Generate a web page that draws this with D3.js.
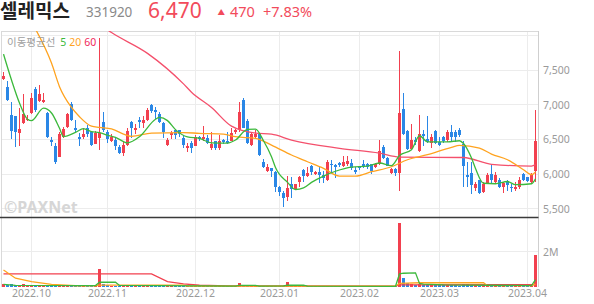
<!DOCTYPE html>
<html><head><meta charset="utf-8">
<script src="https://cdn.jsdelivr.net/npm/d3@7"></script>
<style>
html,body{margin:0;padding:0;background:#fff;}
svg{display:block;}
text{font-family:'Noto Sans','Noto Sans CJK KR',sans-serif;}
</style></head><body>
<svg id="c" width="594" height="304"></svg>
<script>
// ---- trading days (categories) ----
const sep2022 = [22,23,26,27,28,29,30];
const oct2022 = [4,5,6,7,11,12,13,14,17,18,19,20,21,24,25,26,27,28,31];
const nov2022 = [1,2,3,4,7,8,9,10,11,14,15,16,17,18,21,22,23,24,25,28,29,30];
const dec2022 = [1,2,5,6,7,8,9,12,13,14,15,16,19,20,21,22,23,26,27,28,29];
const jan2023 = [2,3,4,5,6,9,10,11,12,13,16,17,18,19,20,25,26,27,30,31];
const feb2023 = [1,2,3,6,7,8,9,10,13,14,15,16,17,20,21,22,23,24,27,28];
const mar2023 = [2,3,6,7,8,9,10,13,14,15,16,17,20,21,22,23,24,27,28,29,30,31];
const apr2023 = [3,4,5];

// ---- OHLC ----
const openP = [7370,7260,6850,6830,6590,6730,6780,6880,7220,7060,
 7040,6880,6490,6400,6250,6540,6680,7010,6670,6530,
 6540,6660,6600,6440,6520,6750,6610,6480,6490,6390,
 6310,6420,6750,6640,6780,6740,6780,6990,6920,6870,
 6740,6420,6560,6640,6630,6520,6370,6450,6410,6540,
 6510,6520,6370,6470,6380,6490,6470,6480,6600,6630,
 7070,6770,6420,6530,6580,6180,6040,6080,6030,5810,
 5730,5670,5850,5780,5880,6060,5970,6110,6000,6030,
 5980,5920,6150,6130,6160,6110,6150,6160,6060,6110,
 6150,6140,6140,6100,6140,6390,6230,6010,6070,6010,
 6940,6620,6360,6490,6330,6580,6510,6450,6620,6460,
 6540,6490,6610,6600,6640,6440,5980,6020,5800,5910,
 5740,5860,6000,5880,5920,5820,5900,5820,5780,5820,
 6000,5950,5890,6050];
const highP = [7470,7340,7040,6840,6950,7150,6850,7170,7250,7280,
 7170,6900,6540,6450,6600,6680,6880,7040,6780,6590,
 6670,6710,6620,6620,7960,6890,6640,6580,6520,6420,
 6470,6660,6760,6720,6820,6840,6950,7010,6960,6900,
 6750,6520,6620,6650,6640,6560,6450,6480,6560,6550,
 6690,6560,6610,6480,6560,6500,6610,6660,6650,7040,
 7090,6790,6600,6640,6590,6210,6140,6090,6050,5830,
 5760,5970,5960,5860,5970,6070,6100,6130,6050,6100,
 6040,6200,6200,6150,6170,6260,6260,6210,6100,6120,
 6200,6160,6150,6160,6490,6420,6240,6080,6080,7780,
 7170,6640,6720,6540,6850,6640,6840,6570,6640,6540,
 6550,6640,6700,6640,6660,6470,6180,6180,5890,5920,
 5880,6020,6150,6030,5940,5880,5920,5850,5880,5950,
 6010,5960,6020,6930];
const lowP = [7350,7050,6500,6390,6400,6720,6760,6870,6900,7040,
 7020,6520,6410,6140,6240,6520,6670,6760,6600,6400,
 6510,6540,6410,6430,6340,6610,6450,6460,6340,6290,
 6260,6400,6520,6570,6670,6660,6760,6880,6800,6730,
 6520,6410,6510,6500,6540,6370,6320,6300,6400,6480,
 6480,6440,6350,6340,6340,6440,6430,6470,6580,6610,
 6660,6440,6410,6500,6260,6090,6030,5950,5740,5690,
 5520,5610,5650,5770,5820,5880,5960,5990,5980,5870,
 5870,5900,6010,5940,6100,6100,6120,6060,6000,6060,
 6090,6070,6000,6090,6130,6220,6110,6000,5970,5760,
 6560,6350,6350,6420,6320,6410,6450,6380,6440,6400,
 6450,6460,6470,6460,6540,5820,5820,5710,5760,5710,
 5730,5850,5860,5860,5800,5730,5760,5740,5750,5790,
 5900,5880,5870,5890];
const closeP = [7410,7070,6620,6610,6650,6870,6800,7090,6930,7150,
 7070,6540,6460,6170,6580,6650,6870,6780,6630,6510,
 6580,6570,6420,6590,6590,6640,6500,6530,6400,6300,
 6420,6620,6670,6660,6750,6780,6920,6910,6900,6750,
 6600,6490,6590,6560,6570,6420,6400,6370,6540,6510,
 6540,6450,6430,6370,6480,6460,6450,6590,6630,6890,
 6670,6450,6580,6580,6270,6100,6100,6040,5810,5740,
 5660,5800,5780,5850,5960,5970,6020,6030,6030,5990,
 5940,6170,6130,6100,6130,6170,6190,6090,6030,6080,
 6100,6100,6050,6140,6330,6230,6120,6070,6020,6880,
 6570,6360,6490,6460,6570,6550,6460,6530,6450,6420,
 6470,6610,6540,6540,6560,6110,5960,5840,5860,5730,
 5860,5990,5920,5990,5820,5870,5840,5800,5810,5920,
 5920,5900,6000,6470];
// volume in thousands of shares
const volumeK = [150,130,160,120,140,150,90,130,110,100,
 80,120,90,110,100,80,90,80,70,70,
 60,60,70,80,1020,150,90,70,80,70,
 80,90,70,60,60,60,80,70,60,60,
 70,50,40,40,40,40,40,40,40,30,
 40,30,40,30,40,30,30,40,40,210,
 120,60,50,40,50,50,40,40,50,50,
 60,270,100,50,50,40,40,30,30,30,
 30,50,40,30,30,40,30,30,30,30,
 30,30,30,30,60,40,30,30,30,3630,
 510,200,160,120,180,120,150,120,110,100,
 90,120,110,90,80,160,150,120,90,80,
 90,80,70,80,70,70,60,60,70,80,
 70,60,80,1810];

// ---- moving-average lines (day index -> value) ----
const ma5Idx = [0,2,4,6,7,10,12,14,15,18,20,22,24,26,28,31,34,38,39,41,43,46,49,52,56,58,61,63,65,67,68,71,73,75,77,80,83,87,91,94,97,99,102,104,106,111,114,115,117,118,120,123,126,128,132,133];
const ma5Val = [7729,7355,7023,6790,6770,6950,6880,6660,6540,6600,6656,6610,6598,6560,6530,6450,6538,6790,6817,6770,6640,6535,6514,6450,6447,6490,6645,6648,6480,6250,6094,5880,5777,5800,5880,5971,6040,6100,6115,6159,6122,6267,6350,6552,6465,6465,6480,6440,6230,6080,5867,5860,5892,5846,5860,5930];
const ma20Idx = [8,12,14,17,19,22,24,27,30,32,37,45,49,55,58,63,67,72,76,80,84,88,92,97,101,106,112,114,119,122,126,130,132,133];
const ma20Val = [8090,7600,7260,6960,6826,6690,6673,6650,6576,6543,6591,6598,6586,6576,6538,6514,6418,6274,6177,6082,5971,5971,6033,6105,6206,6278,6385,6414,6375,6288,6206,6062,5990,6029];
const ma60Idx = [24,27,36,45,47,52,57,63,67,72,84,94,99,115,122,132,133];
const ma60Val = [8160,8040,7740,7300,7180,6960,6690,6590,6575,6490,6370,6300,6245,6238,6140,6115,6135];

const vma5Idx = [0,3,23,24,28,29,58,59,63,64,70,71,75,76,98,99,100,103,104,105,110,132,133];
const vma5Val = [150,90,80,270,270,90,45,90,90,50,60,100,100,50,40,740,780,800,200,160,120,75,420];
const vma20Idx = [0,3,7,12,18,23,24,45,46,98,99,104,120,121,132,133];
const vma20Val = [960,500,300,150,70,70,110,110,45,45,200,240,240,75,80,160];
const vma60Idx = [0,37,41,45,49,56,98,99,133];
const vma60Val = [740,740,300,180,100,60,55,115,130];

// ---- ticks ----
const priceTicks = [5500,6000,6500,7000,7500];
const priceGrid = [5500,6000,6500,7000,7500,8000];
const volTicks = [2000];
const tickDates = ["2022-10-04","2022-11-01","2022-12-01","2023-01-02","2023-02-01","2023-03-02","2023-04-03"];
const tickLabels = ["2022.10","2022.11","2022.12","2023.01","2023.02","2023.03","2023.04"];

// ---- build ----
const pad = n => String(n).padStart(2,'0');
const dates = [];
[[2022,9,sep2022],[2022,10,oct2022],[2022,11,nov2022],[2022,12,dec2022],
 [2023,1,jan2023],[2023,2,feb2023],[2023,3,mar2023],[2023,4,apr2023]]
 .forEach(([yy,mm,ds]) => ds.forEach(d => dates.push(`${yy}-${pad(mm)}-${pad(d)}`)));
const candles = dates.map((d,i) => ({d, o:openP[i], h:highP[i], l:lowP[i], c:closeP[i], v:volumeK[i]}));

const RED = "#f2404f", BLUE = "#2a87e6";
const GREEN = "#3cb93c", ORANGE = "#ffa31f", PINK = "#f4506c";

const svg = d3.select("#c");
const plotL = 1.5, plotR = 537.5;
const pTop = 31, pBot = 217.5, vTop = 218, vBot = 287;

const x = d3.scaleBand().domain(dates).range([plotL, plotR]).padding(0);
const cx = d => x(d) + x.bandwidth()/2;
const y = d3.scaleLinear().domain([5500,7500]).range([208.7,70]);
const yv = d3.scaleLinear().domain([0,2000]).range([vBot,251.7]);

const defs = svg.append("defs");
defs.append("clipPath").attr("id","cp").append("rect")
  .attr("x",plotL).attr("y",pTop).attr("width",plotR-plotL).attr("height",pBot-pTop);
defs.append("clipPath").attr("id","cv").append("rect")
  .attr("x",plotL).attr("y",vTop).attr("width",plotR-plotL).attr("height",vBot-vTop+1);

// grid
const grid = svg.append("g").attr("shape-rendering","crispEdges");
grid.selectAll(".hg").data(priceGrid).join("line")
  .attr("x1",plotL).attr("x2",plotR).attr("y1",d=>y(d)).attr("y2",d=>y(d))
  .attr("stroke","#ececec");
grid.selectAll(".vg").data(volTicks).join("line")
  .attr("x1",plotL).attr("x2",plotR).attr("y1",d=>yv(d)).attr("y2",d=>yv(d))
  .attr("stroke","#ececec");
grid.selectAll(".xg").data(tickDates).join("line")
  .attr("x1",d=>cx(d)).attr("x2",d=>cx(d)).attr("y1",pTop).attr("y2",vBot)
  .attr("stroke","#ececec");

// watermark
svg.append("text").attr("x",4).attr("y",212.5)
  .attr("font-size",16).attr("font-weight","bold").attr("fill","#d6d6d6")
  .text("©PAXNet");

// borders
const bd = svg.append("g").attr("shape-rendering","crispEdges");
bd.append("line").attr("x1",plotL).attr("x2",plotR+0.5).attr("y1",pTop).attr("y2",pTop).attr("stroke","#d9d9d9");
bd.append("line").attr("x1",plotL).attr("x2",plotL).attr("y1",pTop).attr("y2",vBot).attr("stroke","#d9d9d9");
bd.append("line").attr("x1",plotR+0.5).attr("x2",plotR+0.5).attr("y1",pTop).attr("y2",vBot).attr("stroke","#cfcfcf");

// candles
const gc = svg.append("g").attr("clip-path","url(#cp)");
gc.selectAll(".wick").data(candles).join("line")
  .attr("x1",d=>cx(d.d)).attr("x2",d=>cx(d.d))
  .attr("y1",d=>y(d.h)).attr("y2",d=>y(d.l))
  .attr("stroke",d=>d.c>=d.o?RED:BLUE).attr("stroke-width",1)
  .attr("shape-rendering","crispEdges");
gc.selectAll(".body").data(candles).join("rect")
  .attr("x",d=>cx(d.d)-1.5).attr("width",3)
  .attr("y",d=>Math.min(y(d.o),y(d.c)))
  .attr("height",d=>Math.max(1,Math.abs(y(d.o)-y(d.c))))
  .attr("fill",d=>d.c>=d.o?RED:BLUE)
  .attr("shape-rendering","crispEdges");

// MA lines
const pts = (idx,val) => idx.map((i,k)=>({d:dates[i], v:val[k]}));
const lineP = d3.line().x(p=>cx(p.d)).y(p=>y(p.v)).curve(d3.curveMonotoneX);
[[ma60Idx,ma60Val,PINK],[ma20Idx,ma20Val,ORANGE],[ma5Idx,ma5Val,GREEN]].forEach(([i,v,c])=>{
  gc.append("path").attr("d",lineP(pts(i,v))).attr("fill","none")
    .attr("stroke",c).attr("stroke-width",1.3);
});

// volume
const gv = svg.append("g").attr("clip-path","url(#cv)");
gv.selectAll(".vb").data(candles).join("rect")
  .attr("x",d=>cx(d.d)-1.5).attr("width",3)
  .attr("y",d=>yv(d.v)).attr("height",d=>Math.max(1,vBot-yv(d.v)))
  .attr("fill",d=>d.c>=d.o?RED:BLUE)
  .attr("shape-rendering","crispEdges");
const lineV = d3.line().x(p=>cx(p.d)).y(p=>yv(p.v));
[[vma60Idx,vma60Val,RED],[vma20Idx,vma20Val,ORANGE],[vma5Idx,vma5Val,GREEN]].forEach(([i,v,c])=>{
  gv.append("path").attr("d",lineV(pts(i,v))).attr("fill","none")
    .attr("stroke",c).attr("stroke-width",1.3);
});

// separator
svg.append("line").attr("x1",0).attr("x2",plotR+1).attr("y1",pBot).attr("y2",pBot)
  .attr("stroke","#3a3a3a").attr("stroke-width",1.5);

// axes
const styleAxis = g => { g.select(".domain").remove(); g.selectAll("text").attr("fill","#9a9a9a").attr("font-family","'Noto Sans',sans-serif"); };
svg.append("g").attr("transform",`translate(${plotR+0.5},0)`)
  .call(d3.axisRight(y).tickValues(priceTicks).tickSize(0).tickPadding(5).tickFormat(d3.format(",")))
  .attr("font-size",10.5).call(styleAxis);
svg.append("g").attr("transform",`translate(${plotR+0.5},0)`)
  .call(d3.axisRight(yv).tickValues(volTicks).tickSize(0).tickPadding(5).tickFormat(d=>(d/1000)+"M"))
  .attr("font-size",10.5).call(styleAxis);
svg.append("g").attr("transform",`translate(0,${vBot})`)
  .call(d3.axisBottom(x).tickValues(tickDates).tickSize(0).tickPadding(3).tickFormat((d,i)=>tickLabels[i]))
  .attr("font-size",10.5).call(styleAxis);

// legend
const lg = svg.append("text").attr("x",7).attr("y",45.5).attr("font-size",10.5);
lg.append("tspan").attr("fill","#a0a0a0").attr("font-family","'Noto Sans CJK KR',sans-serif").text("이동평균선");
lg.append("tspan").attr("dx",5).attr("fill",GREEN).text("5");
lg.append("tspan").attr("dx",3).attr("fill",ORANGE).text("20");
lg.append("tspan").attr("dx",3).attr("fill","#f0285a").text("60");

// title
svg.append("text").attr("x",0).attr("y",17.5).attr("font-size",19).attr("font-weight","bold")
  .attr("fill","#222").attr("font-family","'Noto Sans CJK KR',sans-serif").text("셀레믹스");
svg.append("text").attr("x",86).attr("y",17.2).attr("font-size",13.5).attr("fill","#8a8a8a").text("331920");
svg.append("text").attr("x",148).attr("y",17.5).attr("font-size",21).attr("fill","#f24b5b").text("6,470");
svg.append("text").attr("x",217.5).attr("y",15).attr("font-size",7.5).attr("fill","#f24b5b")
  .attr("font-family","'DejaVu Sans',sans-serif").text("▲");
svg.append("text").attr("x",230).attr("y",17.2).attr("font-size",14.5).attr("fill","#f24b5b").text("470");
svg.append("text").attr("x",263).attr("y",17.2).attr("font-size",14.5).attr("fill","#f24b5b").text("+7.83%");
</script>
</body></html>
